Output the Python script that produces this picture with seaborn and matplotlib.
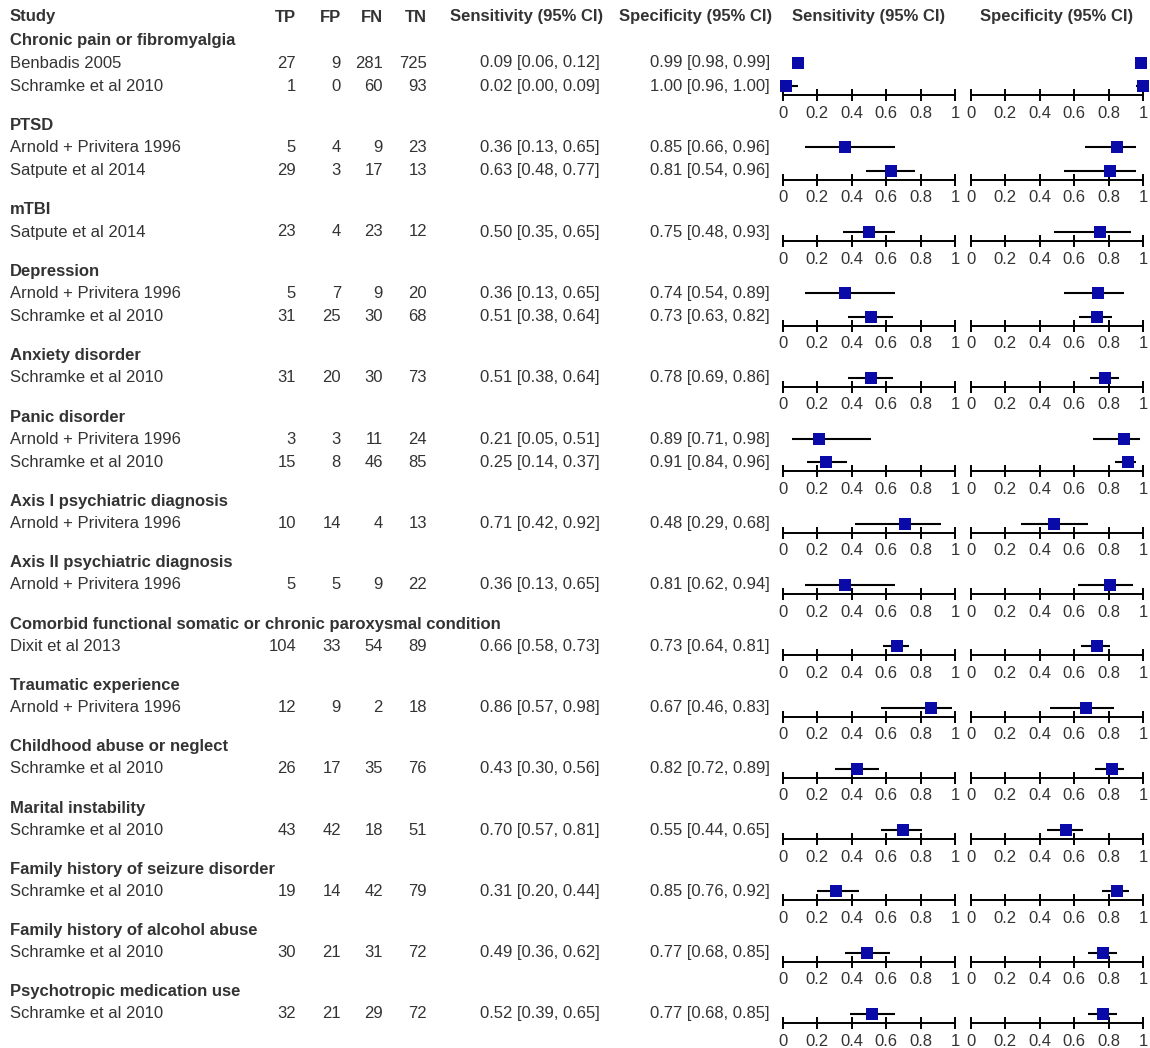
import matplotlib
matplotlib.use("Agg")
import matplotlib.pyplot as plt
import pandas as pd
import seaborn as sns

# ---- data -------------------------------------------------------------
groups = [
    "Chronic pain or fibromyalgia",
    "PTSD",
    "mTBI",
    "Depression",
    "Anxiety disorder",
    "Panic disorder",
    "Axis I psychiatric diagnosis",
    "Axis II psychiatric diagnosis",
    "Comorbid functional somatic or chronic paroxysmal condition",
    "Traumatic experience",
    "Childhood abuse or neglect",
    "Marital instability",
    "Family history of seizure disorder",
    "Family history of alcohol abuse",
    "Psychotropic medication use",
]
group_idx = [0, 0, 1, 1, 2, 3, 3, 4, 5, 5, 6, 7, 8, 9, 10, 11, 12, 13, 14]
studies = [
    "Benbadis 2005", "Schramke et al 2010",
    "Arnold + Privitera 1996", "Satpute et al 2014",
    "Satpute et al 2014",
    "Arnold + Privitera 1996", "Schramke et al 2010",
    "Schramke et al 2010",
    "Arnold + Privitera 1996", "Schramke et al 2010",
    "Arnold + Privitera 1996",
    "Arnold + Privitera 1996",
    "Dixit et al 2013",
    "Arnold + Privitera 1996",
    "Schramke et al 2010",
    "Schramke et al 2010",
    "Schramke et al 2010",
    "Schramke et al 2010",
    "Schramke et al 2010",
]
tp = [27, 1, 5, 29, 23, 5, 31, 31, 3, 15, 10, 5, 104, 12, 26, 43, 19, 30, 32]
fp = [9, 0, 4, 3, 4, 7, 25, 20, 3, 8, 14, 5, 33, 9, 17, 42, 14, 21, 21]
fn = [281, 60, 9, 17, 23, 9, 30, 30, 11, 46, 4, 9, 54, 2, 35, 18, 42, 31, 29]
tn = [725, 93, 23, 13, 12, 20, 68, 73, 24, 85, 13, 22, 89, 18, 76, 51, 79, 72, 72]
sens = [0.09, 0.02, 0.36, 0.63, 0.50, 0.36, 0.51, 0.51, 0.21, 0.25, 0.71, 0.36, 0.66, 0.86, 0.43, 0.70, 0.31, 0.49, 0.52]
sens_lo = [0.06, 0.00, 0.13, 0.48, 0.35, 0.13, 0.38, 0.38, 0.05, 0.14, 0.42, 0.13, 0.58, 0.57, 0.30, 0.57, 0.20, 0.36, 0.39]
sens_hi = [0.12, 0.09, 0.65, 0.77, 0.65, 0.65, 0.64, 0.64, 0.51, 0.37, 0.92, 0.65, 0.73, 0.98, 0.56, 0.81, 0.44, 0.62, 0.65]
spec = [0.99, 1.00, 0.85, 0.81, 0.75, 0.74, 0.73, 0.78, 0.89, 0.91, 0.48, 0.81, 0.73, 0.67, 0.82, 0.55, 0.85, 0.77, 0.77]
spec_lo = [0.98, 0.96, 0.66, 0.54, 0.48, 0.54, 0.63, 0.69, 0.71, 0.84, 0.29, 0.62, 0.64, 0.46, 0.72, 0.44, 0.76, 0.68, 0.68]
spec_hi = [0.99, 1.00, 0.96, 0.96, 0.93, 0.89, 0.82, 0.86, 0.98, 0.96, 0.68, 0.94, 0.81, 0.83, 0.89, 0.65, 0.92, 0.85, 0.85]

col_headers = ["Study", "TP", "FP", "FN", "TN",
               "Sensitivity (95% CI)", "Specificity (95% CI)"]
plot_headers = ["Sensitivity (95% CI)", "Specificity (95% CI)"]
tick_values = [0, 0.2, 0.4, 0.6, 0.8, 1.0]
tick_labels = ["0", "0.2", "0.4", "0.6", "0.8", "1"]

df = pd.DataFrame({
    "group": group_idx, "study": studies,
    "tp": tp, "fp": fp, "fn": fn, "tn": tn,
    "sens": sens, "sens_lo": sens_lo, "sens_hi": sens_hi,
    "spec": spec, "spec_lo": spec_lo, "spec_hi": spec_hi,
})
df["row"] = df.groupby("group").cumcount()

# ---- styling ----------------------------------------------------------
sns.set_style("white")
plt.rcParams["font.family"] = ["Liberation Sans", "DejaVu Sans"]

W, H = 1150, 1048
TEXT = "#333333"
BLUE = "#0A0AA8"
FS = 12

fig = plt.figure(figsize=(W / 100, H / 100), dpi=100)
fig.patch.set_facecolor("white")


def put(x, y, s, ha="left", bold=False, color=TEXT):
    fig.text(x / W, 1 - y / H, s, ha=ha, va="center", fontsize=FS,
             fontweight="bold" if bold else "normal", color=color)


# column anchors (pixels)
X_STUDY = 10
X_NUM = [296, 341, 383, 427]
X_SENS_TXT = 600
X_SPEC_TXT = 770
SENS_AX = (783, 955)
SPEC_AX = (971, 1143)

# vertical layout (pixels)
Y_HEADER = 17
Y_FIRST_GROUP = 41
LABEL_TO_ROW = 22
ROW_PITCH = 23.2
ROW_TO_LABEL = 39.3
AX_TOP_PAD = 12
AX_BOTTOM_PAD = 9

# header line
put(X_STUDY, Y_HEADER, col_headers[0], bold=True)
for x, h in zip(X_NUM, col_headers[1:5]):
    put(x, Y_HEADER, h, ha="right", bold=True)
put(X_SENS_TXT + 3, Y_HEADER, col_headers[5], ha="right", bold=True)
put(X_SPEC_TXT + 2, Y_HEADER, col_headers[6], ha="right", bold=True)
put(sum(SENS_AX) / 2, Y_HEADER, plot_headers[0], ha="center", bold=True)
put(sum(SPEC_AX) / 2, Y_HEADER, plot_headers[1], ha="center", bold=True)


def forest_axes(x0x1, y_first, n):
    top = y_first - AX_TOP_PAD
    bottom = y_first + (n - 1) * ROW_PITCH + AX_BOTTOM_PAD
    ax = fig.add_axes([x0x1[0] / W, 1 - bottom / H,
                       (x0x1[1] - x0x1[0]) / W, (bottom - top) / H])
    ax.set_xlim(0, 1)
    ax.set_ylim(n - 1 + AX_BOTTOM_PAD / ROW_PITCH, -AX_TOP_PAD / ROW_PITCH)
    return ax


def style_axes(ax):
    for side in ("left", "right", "top"):
        ax.spines[side].set_visible(False)
    ax.spines["bottom"].set_linewidth(1.4)
    ax.spines["bottom"].set_color("black")
    ax.set_yticks([])
    ax.set_xticks(tick_values)
    ax.set_xticklabels(tick_labels)
    ax.tick_params(axis="x", bottom=True, direction="inout", length=9,
                   width=1.4, color="black", labelsize=FS, labelcolor=TEXT,
                   pad=3.2)
    ax.set_xlabel("")
    ax.set_ylabel("")
    ax.patch.set_alpha(0)


y = Y_FIRST_GROUP
for g, gname in enumerate(groups):
    put(X_STUDY, y, gname, bold=True)
    sub = df[df["group"] == g]
    n = len(sub)
    y_first = y + LABEL_TO_ROW
    for _, r in sub.iterrows():
        yr = y_first + r["row"] * ROW_PITCH
        put(X_STUDY, yr, r["study"])
        for x, v in zip(X_NUM, (r["tp"], r["fp"], r["fn"], r["tn"])):
            put(x, yr, f"{v:d}", ha="right")
        put(X_SENS_TXT, yr,
            f"{r['sens']:.2f} [{r['sens_lo']:.2f}, {r['sens_hi']:.2f}]", ha="right")
        put(X_SPEC_TXT, yr,
            f"{r['spec']:.2f} [{r['spec_lo']:.2f}, {r['spec_hi']:.2f}]", ha="right")

    for key, span in (("sens", SENS_AX), ("spec", SPEC_AX)):
        ax = forest_axes(span, y_first, n)
        ax.hlines(sub["row"], sub[f"{key}_lo"], sub[f"{key}_hi"],
                  color="black", linewidth=1.5, clip_on=False, zorder=2)
        sns.scatterplot(data=sub, x=key, y="row", marker="s", s=64,
                        color=BLUE, linewidth=0, ax=ax, clip_on=False,
                        zorder=3, legend=False)
        style_axes(ax)

    y = y_first + (n - 1) * ROW_PITCH + ROW_TO_LABEL

fig.savefig("out.png", dpi=100, facecolor="white")
